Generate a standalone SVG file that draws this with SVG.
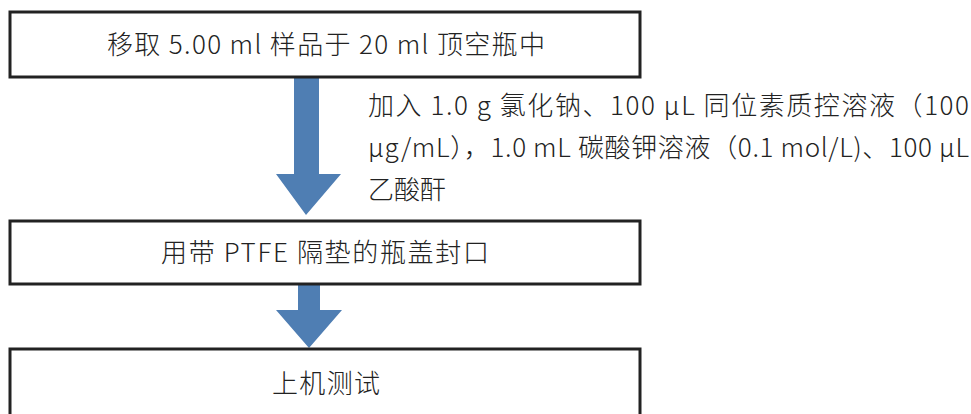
<svg xmlns="http://www.w3.org/2000/svg" width="971" height="414" viewBox="0 0 971 414">
<style>
.box{fill:#fff;stroke:#222;stroke-width:3}
.t{font-family:"Noto Sans CJK SC","Noto Sans",sans-serif;font-weight:300;font-size:26px;fill:#222}
.c{text-anchor:middle}
.arr{fill:#4f7eb3}
</style>
<rect width="971" height="414" fill="#fff"/>
<g id="connectors">
<polygon class="arr" points="294,77 319,77 319,174 341,174 306,215 276,174 294,174"/>
<polygon class="arr" points="298,284 320,284 320,310 342,310 309,348 276,310 298,310"/>
</g>
<g id="n1">
<rect class="box" x="10" y="12" width="630" height="65"/>
<text class="t c" x="326" y="54" textLength="438" lengthAdjust="spacing">移取 5.00 ml 样品于 20 ml 顶空瓶中</text>
</g>
<g id="label">
<text class="t" x="368" y="115" textLength="601" lengthAdjust="spacing">加入 1.0 g 氯化钠、100 μL 同位素质控溶液（100</text>
<text class="t" x="368" y="157" textLength="601" lengthAdjust="spacing">μg/mL），1.0 mL 碳酸钾溶液（0.1 mol/L)、100 μL</text>
<text class="t" x="368" y="199">乙酸酐</text>
</g>
<g id="n2">
<rect class="box" x="10" y="221" width="630" height="63"/>
<text class="t c" x="325" y="262" textLength="328" lengthAdjust="spacing">用带 PTFE 隔垫的瓶盖封口</text>
</g>
<g id="n3">
<rect class="box" x="10" y="349" width="630" height="70"/>
<text class="t c" x="326" y="393" textLength="108" lengthAdjust="spacing">上机测试</text>
</g>
</svg>
